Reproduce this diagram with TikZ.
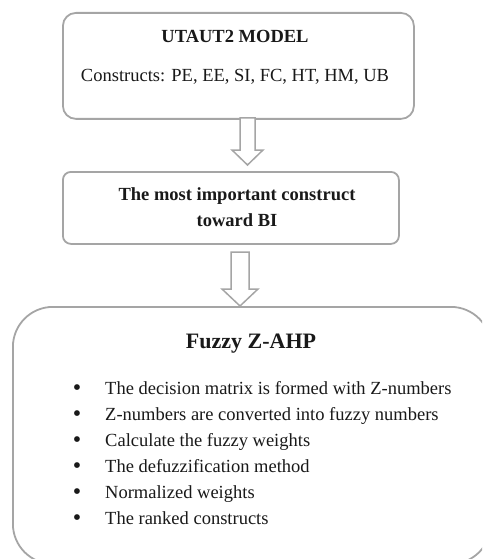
\documentclass[tikz,border=0pt]{standalone}
\usepackage{fontspec}
\setmainfont{Liberation Serif}
\definecolor{bordergray}{RGB}{165,165,165}
\definecolor{textcol}{RGB}{25,25,25}
\begin{document}
\begin{tikzpicture}[x=1pt,y=-1pt,
  box/.style={draw=bordergray, line width=1.8pt, fill=white, inner sep=0pt},
  txt/.style={inner sep=0pt, text=textcol, font=\fontsize{18.5}{26}\selectfont},
  ttl/.style={inner sep=0pt, text=textcol, font=\fontsize{22}{26}\selectfont\bfseries},
  bul/.style={inner sep=0pt, text=textcol, font=\fontsize{24}{26}\selectfont},
  blockarrow/.style={draw=bordergray, line width=1.5pt, fill=white, line join=miter}]
\useasboundingbox (0,0) rectangle (482,559);
\clip (0,0) rectangle (482,559);
% boxes
\node[box, rounded corners=13pt, minimum width=351pt, minimum height=106pt, anchor=north west] (b1) at (62,12) {};
\node[box, rounded corners=8pt, minimum width=336pt, minimum height=72pt, anchor=north west] (b2) at (62,171) {};
\node[box, rounded corners=40pt, minimum width=478pt, minimum height=257pt, anchor=north west] (b3) at (12,306) {};
% block arrows
\draw[blockarrow] (240,118) -- (240,150) -- (232,150) -- (247.5,165) -- (263,150) -- (255,150) -- (255,118) -- cycle;
\draw[blockarrow] (231,252) -- (231,289) -- (222,289) -- (240,306) -- (258,289) -- (249,289) -- (249,252) -- cycle;
% box 1 text
\node[txt, anchor=base, font=\fontsize{18.5}{26}\selectfont\bfseries] (t1) at (235,43) {UTAUT2 MODEL};
\node[txt, anchor=base] (t2) at (235,82) {Constructs: PE, EE, SI, FC, HT, HM, UB};
% box 2 text
\node[txt, anchor=base, font=\fontsize{18.5}{26}\selectfont\bfseries] (t3) at (237,200) {The most important construct};
\node[txt, anchor=base, font=\fontsize{18.5}{26}\selectfont\bfseries] (t4) at (237,226) {toward BI};
% box 3 text
\node[ttl, anchor=base] (t5) at (251,348) {Fuzzy Z-AHP};
\foreach \i/\s in {0/{The decision matrix is formed with Z-numbers},
                   1/{Z-numbers are converted into fuzzy numbers},
                   2/{Calculate the fuzzy weights},
                   3/{The defuzzification method},
                   4/{Normalized weights},
                   5/{The ranked constructs}}{
  \node[bul, anchor=base] (bu\i) at (77,395+26*\i) {\textbullet};
  \node[txt, anchor=base west] (it\i) at (105,394+26*\i) {\s};
}
\end{tikzpicture}
\end{document}
